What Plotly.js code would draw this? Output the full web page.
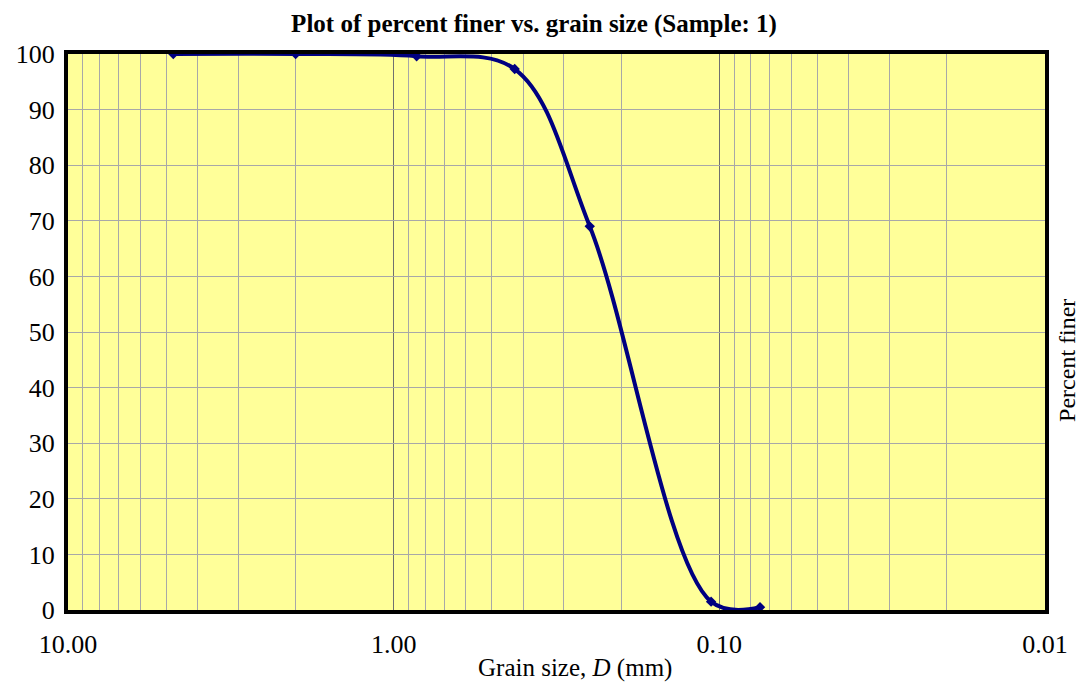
<!DOCTYPE html>
<html>
<head>
<meta charset="utf-8">
<script src="https://cdn.plot.ly/plotly-3.0.1.min.js"></script>
<style>html,body{margin:0;padding:0;background:#fff;}#chart{width:1081px;height:683px;}</style>
</head>
<body>
<div id="chart"></div>
<script>
const grainSize = [4.75, 2.0, 0.85, 0.425, 0.25, 0.106, 0.075];
const percentFiner = [100, 100, 99.6, 97.3, 69.0, 1.5, 0.5];
const xTickVals = [10, 1, 0.1, 0.01];
const xTickText = ['10.00', '1.00', '0.10', '0.01'];
const minorVals = [];
[1, 0.1, 0.01].forEach(d => { for (let k = 2; k <= 9; k++) minorVals.push(+(k * d).toPrecision(3)); });

const serif = 'Liberation Serif, Times New Roman, serif';

const trace = {
  x: grainSize, y: percentFiner, type: 'scatter', mode: 'lines+markers',
  line: {color: '#000080', width: 4, shape: 'spline', smoothing: 1},
  marker: {symbol: 'diamond', size: 8, color: '#000080'},
  hoverinfo: 'x+y'
};

const layout = {
  width: 1081, height: 683,
  margin: {l: 68, r: 36, t: 54, b: 73},
  paper_bgcolor: '#ffffff', plot_bgcolor: '#FFFF99',
  showlegend: false,
  title: {text: '<b>Plot of percent finer vs. grain size (Sample: 1)</b>', font: {family: serif, size: 25, color: '#000'}, x: 0.494, xref: 'container', xanchor: 'center', y: 0.966, yanchor: 'middle'},
  xaxis: {
    type: 'log', range: [1, -2],
    tickmode: 'array', tickvals: xTickVals, ticktext: xTickText,
    showgrid: true, gridcolor: '#707070', gridwidth: 1,
    minor: {tickmode: 'array', tickvals: minorVals, showgrid: true, gridcolor: '#A8A8A8', gridwidth: 1, ticks: ''},
    ticks: 'outside', ticklen: 8, tickcolor: 'rgba(0,0,0,0)',
    showline: true, linecolor: '#000', linewidth: 4, mirror: true,
    tickfont: {family: serif, size: 26, color: '#000'},
    zeroline: false
  },
  yaxis: {
    range: [0, 100], dtick: 10, tick0: 0,
    showgrid: true, gridcolor: '#A8A8A8', gridwidth: 1,
    ticks: 'outside', ticklen: 4, tickcolor: 'rgba(0,0,0,0)',
    showline: true, linecolor: '#000', linewidth: 4, mirror: true,
    tickfont: {family: serif, size: 26, color: '#000'},
    zeroline: false
  },
  annotations: [{
    text: 'Percent finer', textangle: -90, xref: 'paper', yref: 'paper',
    x: 1, xanchor: 'left', xshift: 7, y: 0.448, yanchor: 'middle', showarrow: false,
    font: {family: serif, size: 24, color: '#000'}
  }, {
    text: 'Grain size, <i>D</i> (mm)', xref: 'paper', yref: 'paper',
    x: 0.519, xanchor: 'center', y: 0, yanchor: 'top', yshift: -42, showarrow: false,
    font: {family: serif, size: 25, color: '#000'}
  }]
};

Plotly.newPlot('chart', [trace], layout, {displayModeBar: false});
</script>
</body>
</html>
